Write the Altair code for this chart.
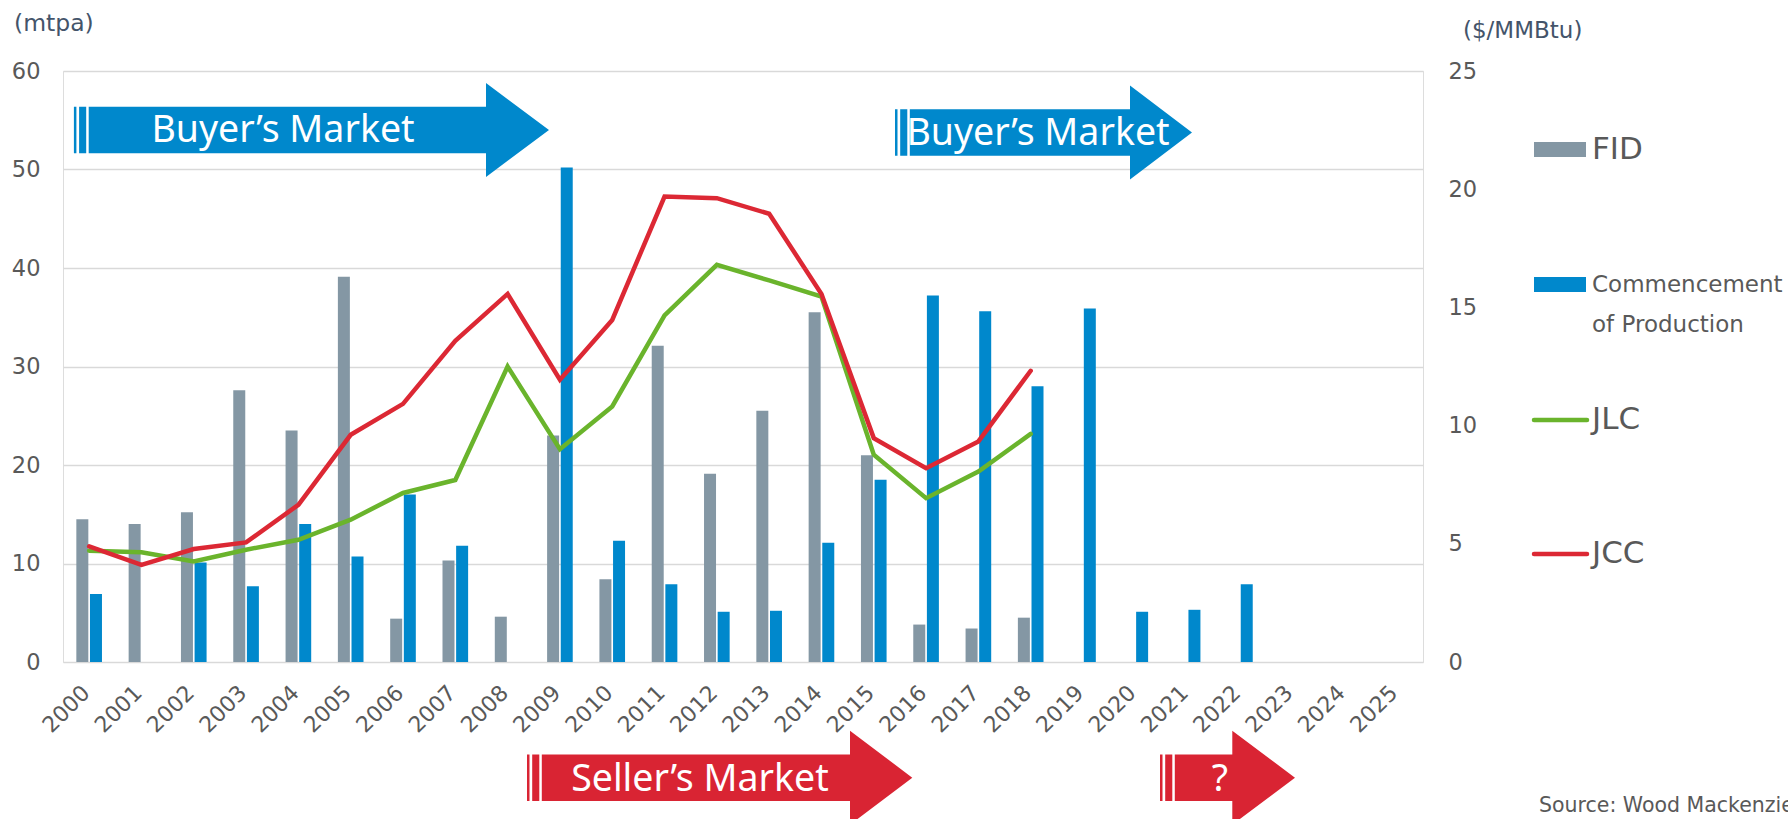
import altair as alt
import pandas as pd

# ---------------- data ----------------
years = list(range(2000, 2026))
fid = [14.5, 14.0, 15.2, 27.6, 23.5, 39.1, 4.4, 10.3, 4.6, 23.0, 8.4, 32.1, 19.1,
       25.5, 35.5, 21.0, 3.8, 3.4, 4.5, None, None, None, None, None, None, None]
cop = [6.9, None, 10.1, 7.7, 14.0, 10.7, 17.0, 11.8, None, 50.2, 12.3, 7.9, 5.1,
       5.2, 12.1, 18.5, 37.2, 35.6, 28.0, 35.9, 5.1, 5.3, 7.9, None, None, None]
price_years = list(range(2000, 2019))
jlc = [4.71, 4.64, 4.25, 4.75, 5.17, 6.02, 7.15, 7.70, 12.5, 9.00, 10.81, 14.66,
       16.8, 16.14, 15.46, 8.77, 6.93, 8.06, 9.65]
jcc = [4.89, 4.11, 4.78, 5.06, 6.65, 9.61, 10.92, 13.59, 15.57, 11.94, 14.47, 19.69,
       19.62, 18.96, 15.57, 9.47, 8.20, 9.33, 12.32]
left_ticks = [0, 10, 20, 30, 40, 50, 60]
right_ticks = [0, 5, 10, 15, 20, 25]

bar_rows = []
for y, f, c in zip(years, fid, cop):
    if f is not None:
        bar_rows.append({"year": y, "series": "FID", "value": f})
    if c is not None:
        bar_rows.append({"year": y, "series": "COP", "value": c})
bars_df = pd.DataFrame(bar_rows)

line_rows = []
for y, a, b in zip(price_years, jlc, jcc):
    line_rows.append({"year": y, "series": "JLC", "value": a})
    line_rows.append({"year": y, "series": "JCC", "value": b})
lines_df = pd.DataFrame(line_rows)

one = pd.DataFrame({"k": [0]})

# ---------------- styles ----------------
W, H = 1360, 591
OX, OY = 63, 71
GREY_TXT = "#595959"
TITLE_TXT = "#44546a"
FID_C = "#8497a4"
COP_C = "#0088cc"
JLC_C = "#6ab42c"
JCC_C = "#dc2834"
BLUE_AR = "#0088cc"
RED_AR = "#d92433"

xscale = alt.Scale(domain=years, paddingInner=0.51, paddingOuter=0.255)
xaxis = alt.Axis(title=None, labelAngle=-45, labelAlign="right", labelBaseline="middle",
                 labelFontSize=22, labelColor=GREY_TXT, labelFont="DejaVu Sans",
                 domain=False, ticks=False, labelPadding=27, labelOffset=-3, grid=False)

bars = alt.Chart(bars_df).mark_bar().encode(
    x=alt.X("year:O", scale=xscale, axis=xaxis),
    xOffset=alt.XOffset("series:N", sort=["FID", "COP"],
                        scale=alt.Scale(domain=["FID", "COP"], paddingInner=0.12)),
    y=alt.Y("value:Q", scale=alt.Scale(domain=[0, 60]),
            axis=alt.Axis(title=None, values=left_ticks, grid=True, gridColor="#d9d9d9",
                          gridWidth=1.5, domain=False, ticks=False, labelFontSize=22.5,
                          labelColor=GREY_TXT, labelPadding=23, labelFont="DejaVu Sans")),
    color=alt.Color("series:N", scale=alt.Scale(domain=["FID", "COP"], range=[FID_C, COP_C]),
                    legend=None),
)

lines = alt.Chart(lines_df).mark_line(strokeWidth=4.5, strokeCap="round").encode(
    x=alt.X("year:O", scale=xscale, axis=xaxis),
    y=alt.Y("value:Q", scale=alt.Scale(domain=[0, 25]),
            axis=alt.Axis(title=None, orient="right", values=right_ticks, grid=False,
                          domain=False, ticks=False, labelFontSize=22.5, labelColor=GREY_TXT,
                          labelPadding=25, labelFont="DejaVu Sans")),
    color=alt.Color("series:N", scale=alt.Scale(domain=["JLC", "JCC"], range=[JLC_C, JCC_C]),
                    legend=None),
    order=alt.Order("series:N", sort="descending"),
)


def arrow_path(x0, body_end, tip, cy, bh=23.3, hh=47.0):
    s1a, s1b = x0, x0 + 2.5
    s2a, s2b = x0 + 5.2, x0 + 12.3
    b0 = x0 + 14.8
    top, bot = cy - bh, cy + bh
    return (f"M{s1a},{top}H{s1b}V{bot}H{s1a}Z"
            f"M{s2a},{top}H{s2b}V{bot}H{s2a}Z"
            f"M{b0},{top}H{body_end}V{cy - hh}L{tip},{cy}L{body_end},{cy + hh}V{bot}H{b0}Z")


def arrow(path, color):
    return alt.Chart(one).mark_point(shape=path, size=4, filled=True, opacity=1,
                                     strokeWidth=0, color=color).encode(
        x=alt.value(0), y=alt.value(0))


def label(txt, x, y, size, color, font="DejaVu Sans", align="left", baseline="middle"):
    return alt.Chart(one).mark_text(text=txt, fontSize=size, color=color, font=font,
                                    align=align, baseline=baseline).encode(
        x=alt.value(x), y=alt.value(y))


annot = [
    arrow(arrow_path(10.9, 423, 486, 59), BLUE_AR),
    label("Buyer’s Market", 220, 70.7, 37.5, "white", font="Noto Sans", align="center",
          baseline="alphabetic"),
    arrow(arrow_path(832, 1067, 1129, 61.5), BLUE_AR),
    label("Buyer’s Market", 975, 74, 37.5, "white", font="Noto Sans", align="center",
          baseline="alphabetic"),
    arrow(arrow_path(464, 787, 849.3, 706.7), RED_AR),
    label("Seller’s Market", 637, 720, 37.5, "white", font="Noto Sans", align="center",
          baseline="alphabetic"),
    arrow(arrow_path(1097, 1169.3, 1232, 706.7), RED_AR),
    label("?", 1157, 720, 37.5, "white", font="Noto Sans", align="center",
          baseline="alphabetic"),
    # axis titles and source
    label("(mtpa)", -49, -47, 23.5, TITLE_TXT),
    label("($/MMBtu)", 1400, -40, 23, TITLE_TXT),
    label("Source: Wood Mackenzie", 1476, 735, 20.5, GREY_TXT),
    # legend
    alt.Chart(one).mark_rect(color=FID_C).encode(
        x=alt.value(1471), x2=alt.value(1523), y=alt.value(71), y2=alt.value(86)),
    label("FID", 1529, 79, 31, GREY_TXT),
    alt.Chart(one).mark_rect(color=COP_C).encode(
        x=alt.value(1471), x2=alt.value(1523), y=alt.value(206), y2=alt.value(221)),
    label("Commencement", 1529, 214, 23, GREY_TXT),
    label("of Production", 1529, 254, 23, GREY_TXT),
    alt.Chart(one).mark_rule(color=JLC_C, strokeWidth=4.5, strokeCap="round").encode(
        x=alt.value(1471), x2=alt.value(1524), y=alt.value(349)),
    label("JLC", 1529, 349, 31, GREY_TXT),
    alt.Chart(one).mark_rule(color=JCC_C, strokeWidth=4.5, strokeCap="round").encode(
        x=alt.value(1471), x2=alt.value(1524), y=alt.value(483)),
    label("JCC", 1529, 483, 31, GREY_TXT),
]

chart = alt.layer(bars, lines, *annot).resolve_scale(
    y="independent", color="independent"
).properties(
    width=W, height=H,
    autosize=alt.AutoSizeParams(type="none"),
    padding={"left": OX, "top": OY, "right": 1788 - OX - W, "bottom": 819 - OY - H},
    background="white",
).configure_view(stroke=None).configure(font="DejaVu Sans")

chart.save("out.html", embed_options={"renderer": "svg", "actions": False})
